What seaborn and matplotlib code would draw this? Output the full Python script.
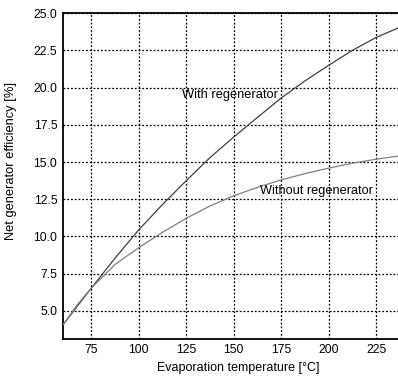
import matplotlib
matplotlib.use("Agg")
import matplotlib.pyplot as plt
import seaborn as sns
import pandas as pd

temps = [60, 67.5, 75, 87.5, 100, 112.5, 125, 137.5, 150, 162.5, 175, 187.5, 200, 212.5, 225, 236.5]
with_regen = [4.05, 5.3, 6.53, 8.55, 10.45, 12.15, 13.75, 15.3, 16.68, 18.0, 19.3, 20.45, 21.5, 22.5, 23.37, 24.0]
without_regen = [4.05, 5.4, 6.53, 8.12, 9.25, 10.28, 11.22, 12.05, 12.73, 13.3, 13.8, 14.22, 14.59, 14.92, 15.19, 15.4]

x_ticks = [75, 100, 125, 150, 175, 200, 225]
y_ticks = [5.0, 7.5, 10.0, 12.5, 15.0, 17.5, 20.0, 22.5, 25.0]

sns.set_theme(style="white")
plt.rcParams['font.family'] = ['Liberation Sans', 'DejaVu Sans']

df = pd.DataFrame({
    "T": temps * 2,
    "eff": with_regen + without_regen,
    "series": ["With regenerator"] * len(temps) + ["Without regenerator"] * len(temps),
})

fig = plt.figure(figsize=(3.98, 3.76), dpi=100)
ax = fig.add_axes([0.158, 0.098, 0.842, 0.867])

sns.lineplot(data=df, x="T", y="eff", hue="series",
             palette={"With regenerator": "#404040", "Without regenerator": "#808080"},
             linewidth=0.9, legend=False, ax=ax, zorder=3)

ax.set_xlim(60, 236.5)
ax.set_ylim(3.1, 25.0)
ax.set_xticks(x_ticks)
ax.set_yticks(y_ticks)
ax.set_xticklabels([str(t) for t in x_ticks])
ax.set_yticklabels([f"{v:.1f}" for v in y_ticks])
ax.grid(True, color="black", linestyle=(0, (1.5, 1.5)), linewidth=0.9)
ax.tick_params(axis="both", labelsize=8.8, colors="black", direction="in", length=3, width=0.8)
ax.tick_params(axis="x", pad=3.5)
ax.tick_params(axis="y", pad=4)

for side in ["left", "bottom", "top"]:
    ax.spines[side].set_color("black")
    ax.spines[side].set_linewidth(1.3)
ax.spines["right"].set_visible(False)

ax.set_xlabel("Evaporation temperature [°C]", fontsize=9.0, color="black")
ax.set_ylabel("Net generator efficiency [%]", fontsize=9.3, color="black")
ax.xaxis.set_label_coords(0.522, -0.071)
ax.yaxis.set_label_coords(-0.137, 0.546)

ax.text(122.8, 19.47, "With regenerator", fontsize=9.3, color="black", va="center", ha="left", zorder=4)
ax.text(164, 13.02, "Without regenerator", fontsize=9.2, color="black", va="center", ha="left", zorder=4)

fig.savefig("out.png", dpi=100, facecolor="white")
